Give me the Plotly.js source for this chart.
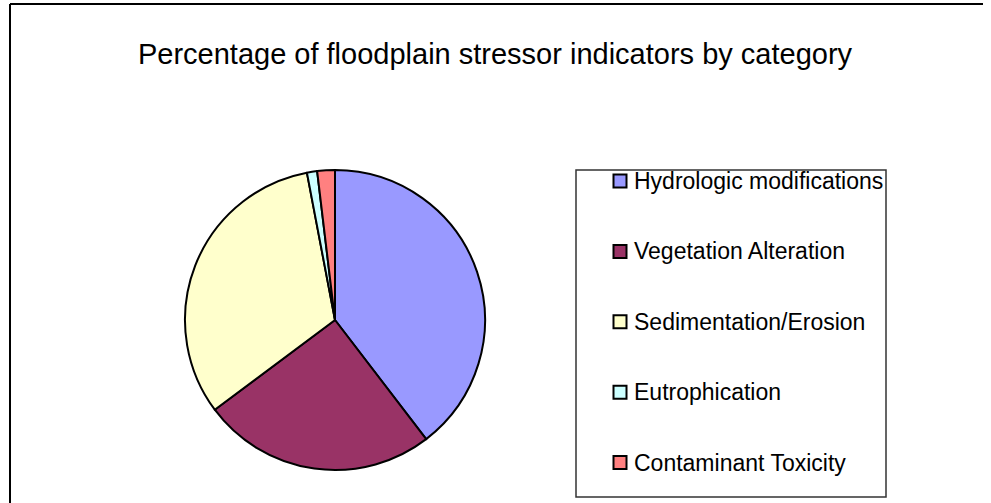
<!DOCTYPE html>
<html>
<head>
<meta charset="utf-8">
<script src="https://cdn.plot.ly/plotly-3.0.1.min.js"></script>
<style>html,body{margin:0;padding:0;background:#fff;}#chart{width:991px;height:503px;}</style>
</head>
<body>
<div id="chart"></div>
<script>
var categories = ["Hydrologic modifications", "Vegetation Alteration", "Sedimentation/Erosion", "Eutrophication", "Contaminant Toxicity"];
var percentages = [39.6, 25.2, 32.2, 1.1, 1.9];
var sliceColors = ["#9999FF", "#993366", "#FFFFCC", "#CCFFFF", "#FF8080"];
var chartTitle = "Percentage of floodplain stressor indicators by category";

var W = 991, H = 503;
function px(x) { return x / W; }
function py(y) { return 1 - y / H; }

var FONT = "Liberation Sans, Arial, sans-serif";

var trace = {
  type: "pie",
  labels: categories,
  values: percentages,
  sort: false,
  direction: "clockwise",
  rotation: 0,
  textinfo: "none",
  hoverinfo: "label+percent",
  marker: { colors: sliceColors, line: { color: "#000000", width: 2 } },
  domain: { x: [px(185), px(485)], y: [py(470), py(170)] },
  showlegend: false
};

var shapes = [
  // outer chart frame (left and top edges visible)
  { type: "line", xref: "paper", yref: "paper", x0: px(10), x1: px(10), y0: py(4), y1: py(510), line: { color: "#000", width: 2 } },
  { type: "line", xref: "paper", yref: "paper", x0: px(10), x1: px(983), y0: py(4), y1: py(4), line: { color: "#000", width: 2 } },
  // legend box
  { type: "rect", xref: "paper", yref: "paper", x0: px(576), x1: px(886), y0: py(497), y1: py(170), line: { color: "#333", width: 1.5 } }
];
var annotations = [];
var rowTop = 181, rowGap = 70.4;
categories.forEach(function (c, i) {
  var yc = rowTop + i * rowGap;
  shapes.push({ type: "rect", xref: "paper", yref: "paper",
    x0: px(613.5), x1: px(626.5), y0: py(yc + 6.5), y1: py(yc - 6.5),
    fillcolor: sliceColors[i], line: { color: "#000", width: 2 } });
  annotations.push({ xref: "paper", yref: "paper", x: px(632), y: py(yc),
    xanchor: "left", yanchor: "middle", showarrow: false, text: c,
    font: { family: FONT, size: 23, color: "#000" } });
});

var layout = {
  width: W, height: H,
  margin: { l: 0, r: 0, t: 0, b: 0 },
  paper_bgcolor: "#ffffff",
  plot_bgcolor: "#ffffff",
  title: { text: chartTitle, x: px(495), xanchor: "center", y: py(54), yanchor: "middle",
    font: { family: FONT, size: 29, color: "#000" } },
  showlegend: false,
  shapes: shapes,
  annotations: annotations
};

Plotly.newPlot("chart", [trace], layout, { staticPlot: true, displayModeBar: false });
</script>
</body>
</html>
